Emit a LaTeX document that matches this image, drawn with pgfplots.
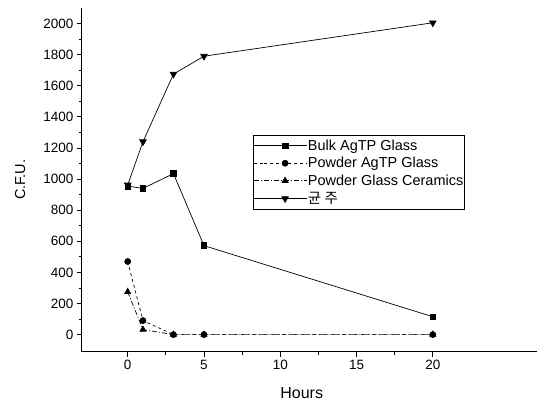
\documentclass[border=0pt]{standalone}
\usepackage{pgfplots}
\pgfplotsset{compat=1.18}
\usepackage{fontspec}
\setmainfont{Liberation Sans}
\newfontfamily\kr{Noto Sans CJK KR}
\begin{document}
\begin{tikzpicture}
\begin{axis}[
  scale only axis, width=455pt, height=344pt,
  xmin=-3, xmax=26.8, ymin=-110, ymax=2100,
  axis x line*=bottom, axis y line*=left,
  axis line style={line width=0.9pt},
  xtick={0,5,10,15,20}, minor x tick num=1,
  ytick={0,200,...,2000}, minor y tick num=1,
  tick align=outside, major tick length=5pt, minor tick length=3pt,
  tick style={black, line width=0.8pt},
  /pgf/number format/assume math mode=true,
  /pgf/number format/1000 sep={},
  ticklabel style={font=\fontsize{13.5}{13.5}\selectfont},
  xlabel={Hours}, ylabel={C.F.U.},
  xlabel style={font=\fontsize{16}{16}\selectfont, at={(axis description cs:0.4835,-0.119)}, anchor=center},
  ylabel style={font=\fontsize{14.5}{14.5}\selectfont, at={(axis description cs:-0.136,0.5)}, anchor=center},
  legend style={at={(axis description cs:0.376,0.631)}, anchor=north west,
    draw=black, line width=0.8pt, font=\fontsize{14.5}{14.5}\selectfont,
    row sep=1.5pt, inner xsep=0pt, inner ysep=2.5pt, nodes={inner xsep=1pt}},
  legend cell align=left,
  legend image code/.code={\path (0pt,0pt) -- (10pt,0pt); \draw[mark repeat=2,mark phase=2,#1] plot coordinates {(10pt,0pt) (31.5pt,0pt) (53pt,0pt)};},
  every axis plot/.append style={line width=0.7pt, black},
]
\addplot[solid, mark=square*, mark size=2.8pt, mark options={solid}] coordinates {
(0,955) (1,940) (3,1035) (5,572) (20,115)};
\addlegendentry{Bulk AgTP Glass}
\addplot[dashed, mark=*, mark size=3pt, mark options={solid}] coordinates {
(0,470) (1,90) (3,0) (5,0) (20,0)};
\addlegendentry{Powder AgTP Glass}
\addplot[dash pattern=on 5pt off 2pt on 1pt off 2pt, mark=triangle*, mark size=3.5pt, mark options={solid}] coordinates {
(0,275) (1,32) (3,0) (5,0) (20,0)};
\addlegendentry{Powder Glass Ceramics}
\addplot[solid, mark=triangle*, mark size=3.8pt, mark options={solid, rotate=180}] coordinates {
(0,962) (1,1240) (3,1675) (5,1790) (20,2005)};
\addlegendentry{{\kr 균 주}}
\coordinate (bl) at (rel axis cs:0,0);
\coordinate (tr) at (rel axis cs:1,1);
\end{axis}
\path (bl) ++(-82pt,-53pt) coordinate (a);
\path (tr) ++(0pt,8pt) coordinate (b);
\path (a) rectangle (b);
\end{tikzpicture}
\end{document}
